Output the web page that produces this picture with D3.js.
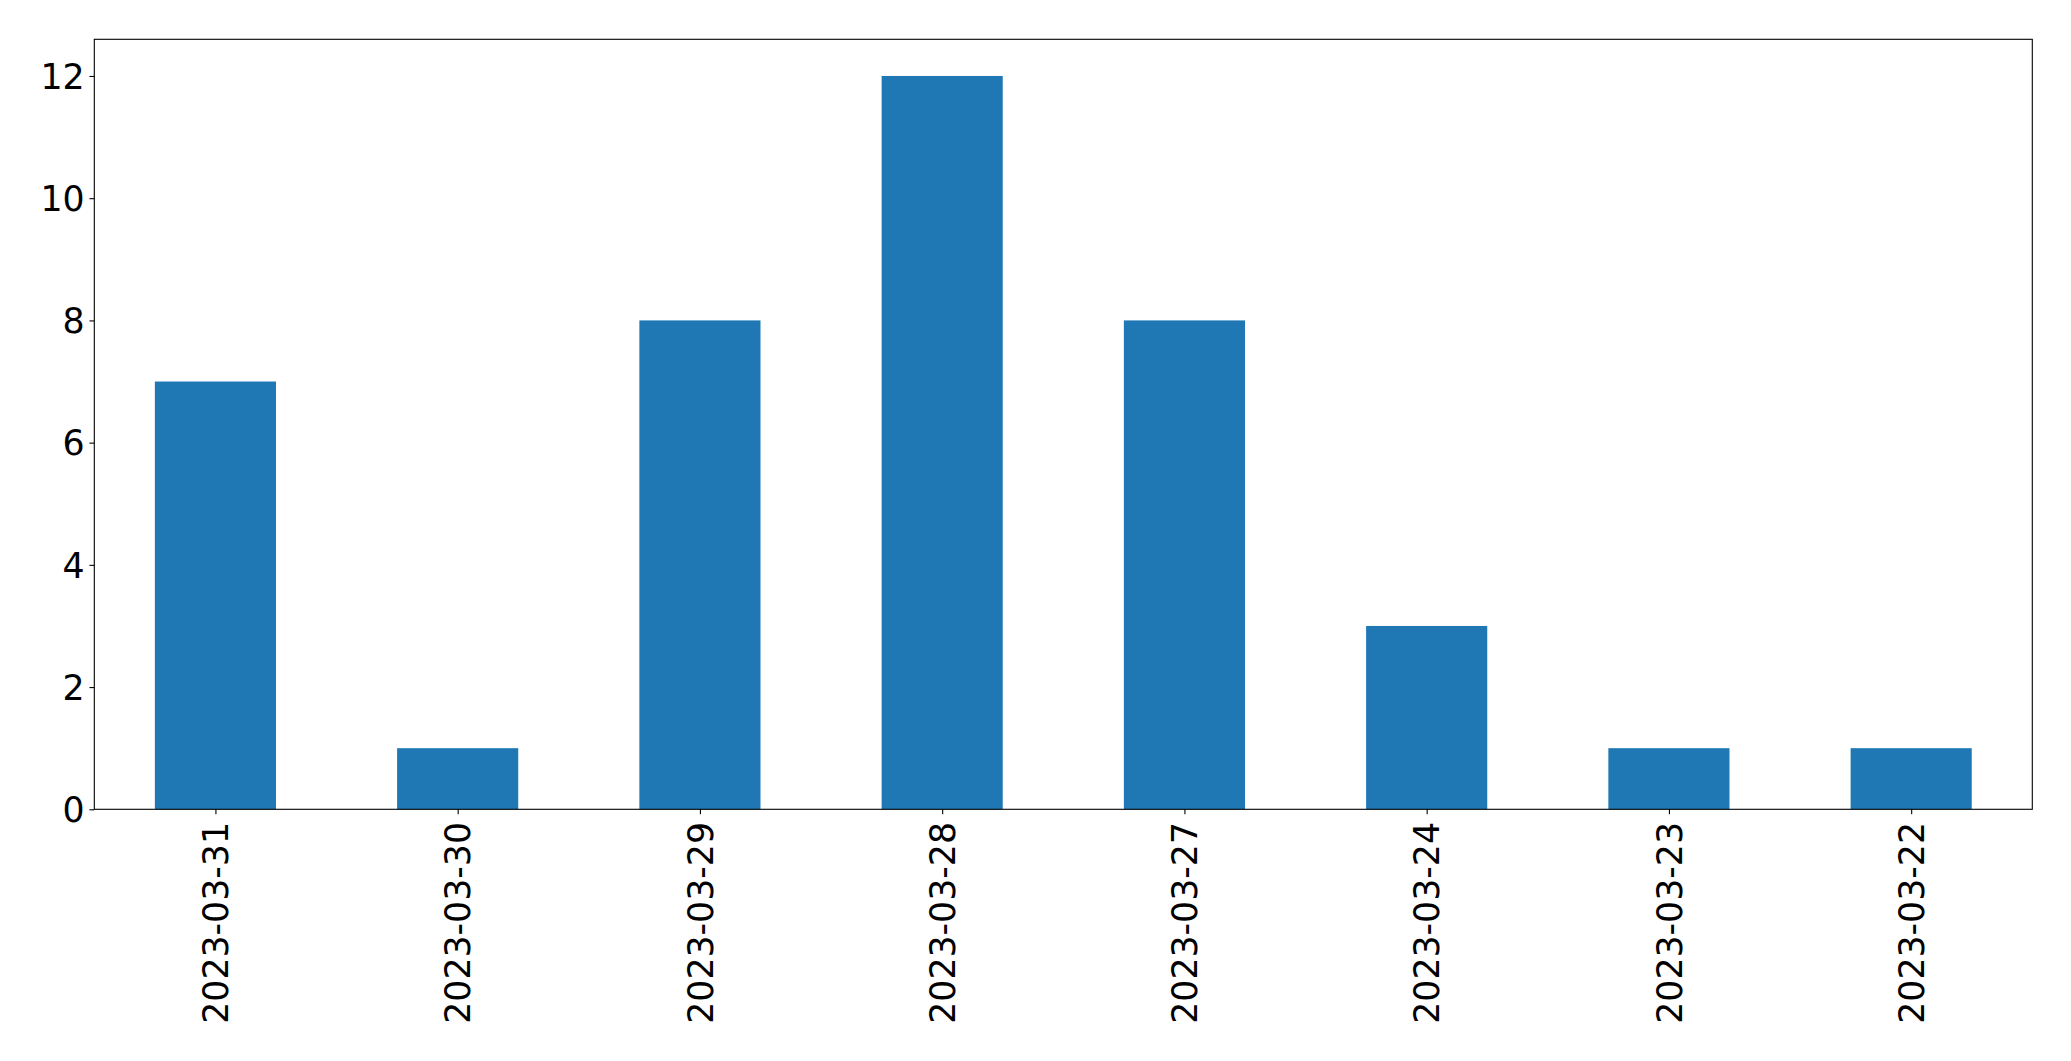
<!DOCTYPE html>
<html><head><meta charset="utf-8">
<script src="https://cdn.jsdelivr.net/npm/d3@7"></script>
<style>body{margin:0;background:#fff}svg{display:block}</style>
</head><body>
<script>
const categories = ["2023-03-31","2023-03-30","2023-03-29","2023-03-28","2023-03-27","2023-03-24","2023-03-23","2023-03-22"];
const values = [7,1,8,12,8,3,1,1];
const yTicks = [0,2,4,6,8,10,12];

const W = 2071, H = 1061;
const m = {left:94.3, right:2032.3, top:39.3, bottom:809.3};
const svg = d3.select("body").append("svg").attr("width",W).attr("height",H);
const x = d3.scaleLinear().domain([-0.5, categories.length-0.5]).range([m.left,m.right]);
const y = d3.scaleLinear().domain([0, 12.6]).range([m.bottom,m.top]);
const font = "DejaVu Sans", fs = 34.72;

svg.append("g").selectAll("rect").data(values).join("rect")
  .attr("x",(d,i)=>x(i-0.25)).attr("width",(d,i)=>x(i+0.25)-x(i-0.25))
  .attr("y",d=>y(d)).attr("height",d=>y(0)-y(d)).attr("fill","#1f77b4");

const yAxis = svg.append("g").attr("transform",`translate(${m.left},0)`)
  .call(d3.axisLeft(y).tickValues(yTicks).tickSize(4.86).tickPadding(4.86).tickFormat(d3.format("d")));
const xAxis = svg.append("g").attr("transform",`translate(0,${m.bottom})`)
  .call(d3.axisBottom(x).tickValues(d3.range(categories.length)).tickSize(4.86).tickFormat(i=>categories[i]));
[yAxis,xAxis].forEach(a=>{a.select(".domain").remove();a.selectAll(".tick line").attr("stroke","#000").attr("stroke-width",1.1);
  a.selectAll("text").attr("font-family",font).attr("font-size",fs).attr("fill","#000");});
yAxis.selectAll("text").attr("dy","0.35em");
xAxis.selectAll("text").attr("transform","rotate(-90)").attr("text-anchor","end")
  .attr("x",-(4.86+4.86+3)).attr("y",0).attr("dy","0.35em");

svg.append("rect").attr("x",m.left).attr("y",m.top).attr("width",m.right-m.left).attr("height",m.bottom-m.top)
  .attr("fill","none").attr("stroke","#000").attr("stroke-width",1.1);
</script>
</body></html>
